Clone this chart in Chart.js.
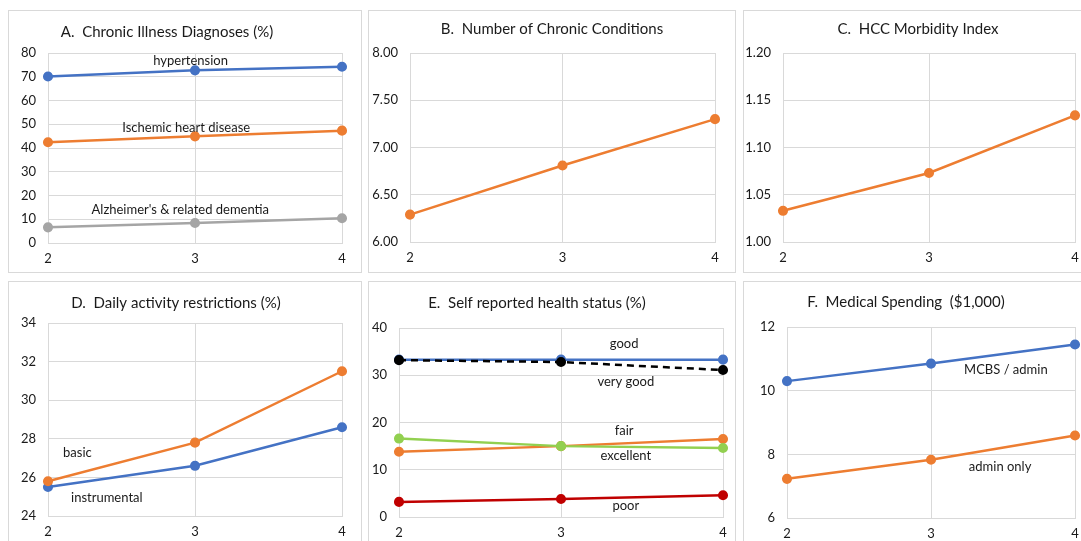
<!DOCTYPE html>
<html>
<head>
<meta charset="utf-8">
<script src="https://cdn.jsdelivr.net/npm/chart.js@4"></script>
<style>
  html, body { margin: 0; padding: 0; background: #fff; width: 1081px; height: 541px; overflow: hidden; }
  .panel { position: absolute; border: 1px solid #d9d9d9; box-sizing: border-box; background: #fff; }
  .panel canvas { position: absolute; left: 0; top: 0; }
</style>
</head>
<body>
<div class="panel" id="pa"><canvas id="ca"></canvas></div>
<div class="panel" id="pb"><canvas id="cb"></canvas></div>
<div class="panel" id="pc"><canvas id="cc"></canvas></div>
<div class="panel" id="pd"><canvas id="cd"></canvas></div>
<div class="panel" id="pe"><canvas id="ce"></canvas></div>
<div class="panel" id="pf"><canvas id="cf"></canvas></div>
<script>
// data
const waves = ['2', '3', '4'];

const hypertension = [70.1, 72.7, 74.2];
const ischemicHeart = [42.4, 44.9, 47.3];
const alzheimers = [6.6, 8.4, 10.4];

const chronicConditions = [6.29, 6.81, 7.30];
const hccIndex = [1.033, 1.073, 1.134];

const basicAdl = [25.8, 27.8, 31.5];
const instrumentalAdl = [25.5, 26.6, 28.6];

const healthGood = [33.3, 33.3, 33.3];
const healthVeryGood = [33.2, 32.8, 31.1];
const healthFair = [13.8, 15.0, 16.5];
const healthExcellent = [16.6, 15.0, 14.6];
const healthPoor = [3.2, 3.8, 4.6];

const spendMcbs = [10.3, 10.85, 11.45];
const spendAdminOnly = [7.23, 7.83, 8.59];

// y axes: min, max, step
const axisA = [0, 80, 10];
const axisB = [6, 8, 0.5];
const axisC = [1, 1.2, 0.05];
const axisD = [24, 34, 2];
const axisE = [0, 40, 10];
const axisF = [6, 12, 2];

const BLUE = '#4472C4', ORANGE = '#ED7D31', GRAY = '#A5A5A5', GREEN = '#92D050', RED = '#C00000', BLACK = '#000000';
const FONT = 'Lato, "Open Sans", sans-serif';
const TEXT = '#1a1a1a';

const panelTitle = {
    id: 'panelTitle',
    afterDraw(chart, args, opts) {
        const ctx = chart.ctx;
        ctx.save();
        ctx.font = '15px ' + FONT;
        ctx.fillStyle = TEXT;
        ctx.textAlign = 'center';
        ctx.textBaseline = 'middle';
        ctx.fillText(opts.text, opts.x, opts.y);
        ctx.restore();
    }
};

const seriesLabels = {
    id: 'seriesLabels',
    afterDatasetsDraw(chart, args, opts) {
        const ctx = chart.ctx;
        const xs = chart.scales.x, ys = chart.scales.y;
        ctx.save();
        ctx.font = '13px ' + FONT;
        ctx.fillStyle = TEXT;
        ctx.textAlign = 'center';
        ctx.textBaseline = 'middle';
        (opts.items || []).forEach(l => {
            ctx.fillText(l.text, xs.getPixelForValue(l.x), ys.getPixelForValue(l.y));
        });
        ctx.restore();
    }
};

function series(data, color, extra) {
    return Object.assign({
        data: data,
        borderColor: color,
        backgroundColor: color,
        pointBackgroundColor: color,
        pointBorderColor: color,
        borderWidth: 2.5,
        pointRadius: 3.8,
        pointHoverRadius: 3.8,
        tension: 0
    }, extra || {});
}

// box: [left, top, width, height], plot: [left, top, right, bottom], title: [text, x, y]
function makePanel(pid, cid, box, plot, title, axis, decimals, datasets, labels) {
    const p = document.getElementById(pid);
    p.style.left = box[0] + 'px';
    p.style.top = box[1] + 'px';
    p.style.width = box[2] + 'px';
    p.style.height = box[3] + 'px';
    const w = box[2] - 2, h = box[3] - 2;
    const cv = document.getElementById(cid);
    cv.width = w; cv.height = h;
    cv.style.width = w + 'px'; cv.style.height = h + 'px';
    const ox = box[0] + 1, oy = box[1] + 1;
    const yW = plot[0] - ox;
    const xH = (oy + h) - plot[3];
    new Chart(cv.getContext('2d'), {
        type: 'line',
        data: { labels: waves, datasets: datasets },
        options: {
            responsive: false,
            animation: false,
            layout: { padding: { left: 0, bottom: 0, top: plot[1] - oy, right: (ox + w) - plot[2] } },
            plugins: {
                legend: { display: false },
                tooltip: { enabled: false },
                panelTitle: { text: title[0], x: title[1] - ox, y: title[2] - oy },
                seriesLabels: { items: labels }
            },
            scales: {
                x: {
                    offset: false,
                    grid: { color: '#d9d9d9', drawTicks: false },
                    border: { color: '#d9d9d9' },
                    ticks: { color: TEXT, font: { family: FONT, size: 13 }, padding: 8, maxRotation: 0 },
                    afterFit(s) { s.height = xH; }
                },
                y: {
                    min: axis[0], max: axis[1],
                    grid: { color: '#d9d9d9', drawTicks: false },
                    border: { color: '#d9d9d9' },
                    ticks: {
                        stepSize: axis[2], color: TEXT, font: { family: FONT, size: 13 }, padding: 12,
                        callback: v => Number(v).toFixed(decimals)
                    },
                    afterFit(s) { s.width = yW; }
                }
            }
        },
        plugins: [panelTitle, seriesLabels]
    });
}

makePanel('pa', 'ca', [8, 10, 354, 263], [48, 53, 342, 243], ['A.  Chronic Illness Diagnoses (%)', 167, 32], axisA, 0,
    [series(hypertension, BLUE), series(ischemicHeart, ORANGE), series(alzheimers, GRAY)],
    [{ text: 'hypertension', x: 0.97, y: 76.6 },
     { text: 'Ischemic heart disease', x: 0.94, y: 48.5 },
     { text: "Alzheimer's & related dementia", x: 0.90, y: 13.9 }]);

makePanel('pb', 'cb', [368, 10, 368, 263], [410, 53, 715, 242], ['B.  Number of Chronic Conditions', 552, 29], axisB, 2,
    [series(chronicConditions, ORANGE)], []);

makePanel('pc', 'cc', [743, 10, 347, 263], [783, 53, 1075, 242], ['C.  HCC Morbidity Index', 918, 29], axisC, 2,
    [series(hccIndex, ORANGE)], []);

makePanel('pd', 'cd', [8, 281, 354, 269], [48, 323, 342, 516], ['D.  Daily activity restrictions (%)', 176, 303], axisD, 0,
    [series(basicAdl, ORANGE), series(instrumentalAdl, BLUE)],
    [{ text: 'basic', x: 0.20, y: 27.25 },
     { text: 'instrumental', x: 0.40, y: 24.92 }]);

makePanel('pe', 'ce', [368, 281, 368, 269], [399, 328, 723, 517], ['E.  Self reported health status (%)', 537, 303], axisE, 0,
    [series(healthVeryGood, BLACK, { borderDash: [7, 5], order: 0 }),
     series(healthGood, BLUE, { order: 1 }),
     series(healthExcellent, GREEN, { order: 2 }),
     series(healthFair, ORANGE, { order: 3 }),
     series(healthPoor, RED, { order: 4 })],
    [{ text: 'good', x: 1.39, y: 36.6 },
     { text: 'very good', x: 1.40, y: 28.6 },
     { text: 'fair', x: 1.39, y: 18.3 },
     { text: 'excellent', x: 1.40, y: 12.9 },
     { text: 'poor', x: 1.40, y: 2.3 }]);

makePanel('pf', 'cf', [743, 281, 347, 269], [787, 327, 1075, 518], ['F.  Medical Spending  ($1,000)', 906, 302], axisF, 0,
    [series(spendMcbs, BLUE), series(spendAdminOnly, ORANGE)],
    [{ text: 'MCBS / admin', x: 1.52, y: 10.65 },
     { text: 'admin only', x: 1.48, y: 7.61 }]);
</script>
</body>
</html>
